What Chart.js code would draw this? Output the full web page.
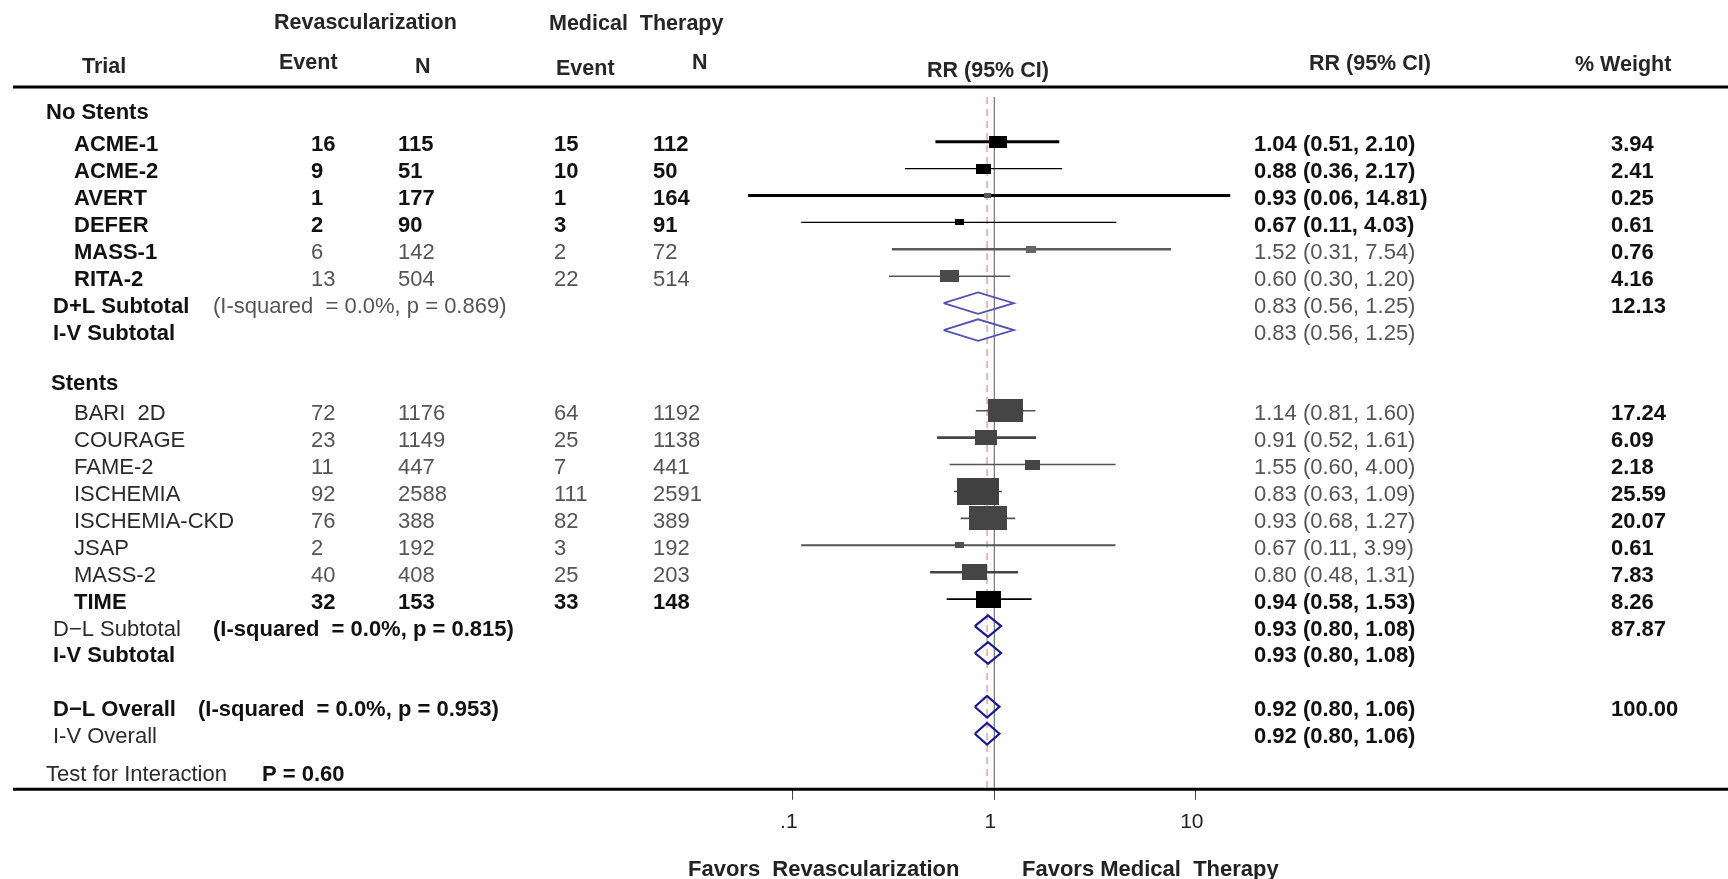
<!DOCTYPE html>
<html>
<head>
<meta charset="utf-8">
<title>Revascularization vs Medical Therapy – forest plot</title>
<script src="https://cdn.jsdelivr.net/npm/chart.js@4.4.1/dist/chart.umd.min.js"></script>
<style>
  html, body { margin: 0; padding: 0; background: #ffffff; overflow: hidden; }
  #plot { display: block; }
</style>
</head>
<body>
<canvas id="plot" width="1728" height="879"></canvas>
<script>
// ---------------- data ----------------
const groupNames = ['No Stents', 'Stents'];

const trials     = ['ACME-1', 'ACME-2', 'AVERT', 'DEFER', 'MASS-1', 'RITA-2',
                    'BARI  2D', 'COURAGE', 'FAME-2', 'ISCHEMIA', 'ISCHEMIA-CKD', 'JSAP', 'MASS-2', 'TIME'];
const trialGroup = [0, 0, 0, 0, 0, 0, 1, 1, 1, 1, 1, 1, 1, 1];

const revEvents  = [16, 9, 1, 2, 6, 13, 72, 23, 11, 92, 76, 2, 40, 32];
const revTotal   = [115, 51, 177, 90, 142, 504, 1176, 1149, 447, 2588, 388, 192, 408, 153];
const medEvents  = [15, 10, 1, 3, 2, 22, 64, 25, 7, 111, 82, 3, 25, 33];
const medTotal   = [112, 50, 164, 91, 72, 514, 1192, 1138, 441, 2591, 389, 192, 203, 148];

const rr         = [1.04, 0.88, 0.93, 0.67, 1.52, 0.60, 1.14, 0.91, 1.55, 0.83, 0.93, 0.67, 0.80, 0.94];
const rrLow      = [0.51, 0.36, 0.06, 0.11, 0.31, 0.30, 0.81, 0.52, 0.60, 0.63, 0.68, 0.11, 0.48, 0.58];
const rrHigh     = [2.10, 2.17, 14.81, 4.03, 7.54, 1.20, 1.60, 1.61, 4.00, 1.09, 1.27, 3.99, 1.31, 1.53];
const weights    = [3.94, 2.41, 0.25, 0.61, 0.76, 4.16, 17.24, 6.09, 2.18, 25.59, 20.07, 0.61, 7.83, 8.26];

// pooled estimates: [No Stents D+L, No Stents I-V, Stents D-L, Stents I-V, Overall D-L, Overall I-V]
const pooledLabels = ['D+L Subtotal', 'I-V Subtotal', 'D\u2212L Subtotal', 'I-V Subtotal', 'D\u2212L Overall', 'I-V Overall'];
const pooledHet    = ['(I-squared  = 0.0%, p = 0.869)', '', '(I-squared  = 0.0%, p = 0.815)', '',
                      '(I-squared  = 0.0%, p = 0.953)', ''];
const pooledRR     = [0.83, 0.83, 0.93, 0.93, 0.92, 0.92];
const pooledLow    = [0.56, 0.56, 0.80, 0.80, 0.80, 0.80];
const pooledHigh   = [1.25, 1.25, 1.08, 1.08, 1.06, 1.06];
const pooledWeight = [12.13, null, 87.87, null, 100.00, null];

const interactionP = 0.60;

const xTickValues = [0.1, 1, 10];
const xTickLabels = ['.1', '1', '10'];

// ---------------- styling ----------------
const FAMILY = '"Liberation Sans", Arial, Helvetica, sans-serif';
const TXT = {
  B: { bold: true,  color: '#111111' },   // bold black
  G: { bold: false, color: '#555555' },   // regular grey
  R: { bold: false, color: '#2b2b2b' }    // regular dark
};
// per trial: [name, counts, rr text, weight]
const trialText = [
  ['B','B','B','B'], ['B','B','B','B'], ['B','B','B','B'], ['B','B','B','B'],
  ['B','G','G','B'], ['B','G','G','B'],
  ['R','G','G','B'], ['R','G','G','B'], ['R','G','G','B'], ['R','G','G','B'],
  ['R','G','G','B'], ['R','G','G','B'], ['R','G','G','B'],
  ['B','B','B','B']
];
// per pooled row: [label, heterogeneity, rr text, weight]
const pooledText = [
  ['B','G','G','B'], ['B','G','G','B'],
  ['R','B','B','B'], ['B','B','B','B'],
  ['B','B','B','B'], ['R','B','B','B']
];
const boxColor  = ['#000','#000','#555','#000','#666','#4a4a4a',
                   '#454545','#454545','#454545','#404040','#454545','#505050','#454545','#000'];
const ciColor   = ['#000','#000','#000','#000','#5a5a5a','#555',
                   '#555','#444','#555','#444','#555','#555','#444','#000'];
const ciWidth   = [3, 1.3, 3, 1.3, 2.5, 1.3, 1.6, 2.8, 1.5, 1.5, 1.6, 2, 2.4, 1.6];
const diamondColor = ['#5252b0', '#5252b0', '#1a1a8c', '#1a1a8c', '#1a1a8c', '#1a1a8c'];

// column anchors (left edges, canvas px)
const COL = { name: 74, group: 46, pooled: 53, revE: 311, revN: 398, medE: 554, medN: 653, rr: 1254, w: 1611 };

// ---------------- row layout ----------------
const rows = [];
let r = 0;
groupNames.forEach((g, gi) => {
  rows.push({ kind: 'group', gi, r: r++ });
  trials.forEach((t, i) => { if (trialGroup[i] === gi) rows.push({ kind: 'trial', i, r: r++ }); });
  rows.push({ kind: 'pooled', k: gi * 2, r: r++ });
  rows.push({ kind: 'pooled', k: gi * 2 + 1, r: r++ });
  r++;                                   // blank spacer row
});
rows.push({ kind: 'pooled', k: 4, r: r++ });
rows.push({ kind: 'pooled', k: 5, r: r++ });
rows.push({ kind: 'test', r: r + 0.4 });

const rowOfTrial = {}; const rowOfPooled = {};
rows.forEach(o => { if (o.kind === 'trial') rowOfTrial[o.i] = o.r; if (o.kind === 'pooled') rowOfPooled[o.k] = o.r; });

const Y_MIN = -0.66, Y_MAX = 25.01;

// ---------------- datasets ----------------
function boxImage(w, color) {
  const cw = Math.max(2, Math.round(3 + 7.8 * Math.sqrt(w)));
  const ch = Math.max(2, Math.round(2.5 + 4.9 * Math.sqrt(w)));
  const c = document.createElement('canvas');
  c.width = cw; c.height = ch;
  const g = c.getContext('2d');
  g.fillStyle = color; g.fillRect(0, 0, cw, ch);
  return c;
}
const boxImages = weights.map((w, i) => boxImage(w, boxColor[i]));

const datasets = [];

// study point estimates (boxes sized by weight)
datasets.push({
  label: 'estimates',
  order: 0,
  data: trials.map((t, i) => ({ x: rr[i], y: rowOfTrial[i] })),
  pointStyle: ctx => boxImages[ctx.dataIndex],
  pointRadius: 1,
  showLine: false
});

// pooled diamonds
const DH = 0.40;
pooledRR.forEach((v, k) => {
  const y = rowOfPooled[k];
  datasets.push({
    label: pooledLabels[k],
    order: 1,
    data: [
      { x: pooledLow[k], y }, { x: v, y: y - DH }, { x: pooledHigh[k], y },
      { x: v, y: y + DH }, { x: pooledLow[k], y }
    ],
    showLine: true, borderColor: diamondColor[k], borderWidth: k < 2 ? 1.8 : 2.2,
    borderJoinStyle: 'miter', pointRadius: 0, fill: false, tension: 0
  });
});

// confidence intervals
trials.forEach((t, i) => {
  datasets.push({
    label: t + ' CI',
    order: 2,
    data: [{ x: rrLow[i], y: rowOfTrial[i] }, { x: rrHigh[i], y: rowOfTrial[i] }],
    showLine: true, borderColor: ciColor[i], borderWidth: ciWidth[i],
    borderCapStyle: 'butt', pointRadius: 0, fill: false
  });
});

// null line and overall-effect line
datasets.push({
  label: 'null', order: 3,
  data: [{ x: 1, y: Y_MIN }, { x: 1, y: Y_MAX }],
  showLine: true, borderColor: '#7d7d7d', borderWidth: 1.3, pointRadius: 0
});
datasets.push({
  label: 'overall', order: 3,
  data: [{ x: pooledRR[4], y: Y_MIN }, { x: pooledRR[4], y: Y_MAX }],
  showLine: true, borderColor: '#d99090', borderWidth: 1.2, borderDash: [7, 5], pointRadius: 0
});

// ---------------- table text ----------------
function put(ctx, text, x, y, st, size, align) {
  ctx.font = (st.bold ? 'bold ' : '') + (size || 22) + 'px ' + FAMILY;
  ctx.fillStyle = st.color;
  ctx.textAlign = align || 'left';
  ctx.textBaseline = 'alphabetic';
  ctx.fillText(text, x, y);
}
const fmt2 = v => v.toFixed(2);
const ciText = (e, l, h) => fmt2(e) + ' (' + fmt2(l) + ', ' + fmt2(h) + ')';

const tablePlugin = {
  id: 'forestTable',
  afterDraw(chart) {
    const ctx = chart.ctx;
    const ys = chart.scales.y;
    const area = chart.chartArea;
    ctx.save();

    // top and bottom rules across the full width
    ctx.strokeStyle = '#000'; ctx.lineWidth = 3;
    ctx.beginPath(); ctx.moveTo(area.left, 87); ctx.lineTo(chart.width, 87); ctx.stroke();
    ctx.beginPath(); ctx.moveTo(area.left, area.bottom + 1.5); ctx.lineTo(chart.width, area.bottom + 1.5); ctx.stroke();

    // headers
    const H = { bold: true, color: '#262626' };
    put(ctx, 'Revascularization', 274, 29, H, 21.5);
    put(ctx, 'Medical  Therapy', 549, 30, H, 21.5);
    put(ctx, 'Trial', 82, 73, H, 21.5);
    put(ctx, 'Event', 279, 69, H, 21.5);
    put(ctx, 'N', 415, 73, H, 21.5);
    put(ctx, 'Event', 556, 75, H, 21.5);
    put(ctx, 'N', 692, 69, H, 21.5);
    put(ctx, 'RR (95% CI)', 927, 77, H, 21.5);
    put(ctx, 'RR (95% CI)', 1309, 70, H, 21.5);
    put(ctx, '% Weight', 1575, 71, H, 21.5);

    rows.forEach(o => {
      const py = ys.getPixelForValue(o.r);
      const base = py + 9.5;
      if (o.kind === 'group') {
        put(ctx, groupNames[o.gi], COL.group + (o.gi ? 5 : 0), py + (o.gi ? 6 : 4), TXT.B);
      } else if (o.kind === 'trial') {
        const i = o.i, s = trialText[i];
        put(ctx, trials[i], COL.name, base, TXT[s[0]]);
        put(ctx, String(revEvents[i]), COL.revE, base, TXT[s[1]]);
        put(ctx, String(revTotal[i]), COL.revN, base, TXT[s[1]]);
        put(ctx, String(medEvents[i]), COL.medE, base, TXT[s[1]]);
        put(ctx, String(medTotal[i]), COL.medN, base, TXT[s[1]]);
        put(ctx, ciText(rr[i], rrLow[i], rrHigh[i]), COL.rr, base, TXT[s[2]]);
        put(ctx, fmt2(weights[i]), COL.w, base, TXT[s[3]]);
      } else if (o.kind === 'pooled') {
        const k = o.k, s = pooledText[k];
        put(ctx, pooledLabels[k], COL.pooled, base, TXT[s[0]]);
        if (pooledHet[k]) put(ctx, pooledHet[k], k === 4 ? 198 : 213, base, TXT[s[1]]);
        put(ctx, ciText(pooledRR[k], pooledLow[k], pooledHigh[k]), COL.rr, base, TXT[s[2]]);
        if (pooledWeight[k] !== null) put(ctx, fmt2(pooledWeight[k]), COL.w, base, TXT[s[3]]);
      } else if (o.kind === 'test') {
        put(ctx, 'Test for Interaction', COL.group, base, TXT.R);
        put(ctx, 'P = ' + fmt2(interactionP), 262, base, TXT.B);
      }
    });

    // direction labels under the axis
    const F = { bold: true, color: '#222' };
    put(ctx, 'Favors  Revascularization', 688, 876, F, 22);
    put(ctx, 'Favors Medical  Therapy', 1022, 876, F, 22);

    ctx.restore();
  }
};

// ---------------- chart ----------------
new Chart(document.getElementById('plot'), {
  type: 'scatter',
  data: { datasets },
  options: {
    responsive: false,
    animation: false,
    events: [],
    layout: { padding: { left: 13, right: 0, top: 97, bottom: 34 } },
    plugins: { legend: { display: false }, tooltip: { enabled: false } },
    scales: {
      x: {
        type: 'logarithmic',
        position: 'bottom',
        bounds: 'data',
        min: Math.pow(10, -4.870),
        max: Math.pow(10, 3.616),
        afterBuildTicks: axis => { axis.ticks = xTickValues.map(v => ({ value: v })); },
        ticks: {
          autoSkip: false, maxRotation: 0, minRotation: 0, padding: 10, labelOffset: -4,
          color: '#222', font: { family: FAMILY, size: 21 },
          callback: (v, i) => xTickLabels[i]
        },
        grid: { display: true, drawOnChartArea: false, drawTicks: true, tickLength: 12, color: '#444', lineWidth: 1 },
        border: { display: false }
      },
      y: { type: 'linear', min: Y_MIN, max: Y_MAX, reverse: true, display: false }
    }
  },
  plugins: [tablePlugin]
});
</script>
</body>
</html>
